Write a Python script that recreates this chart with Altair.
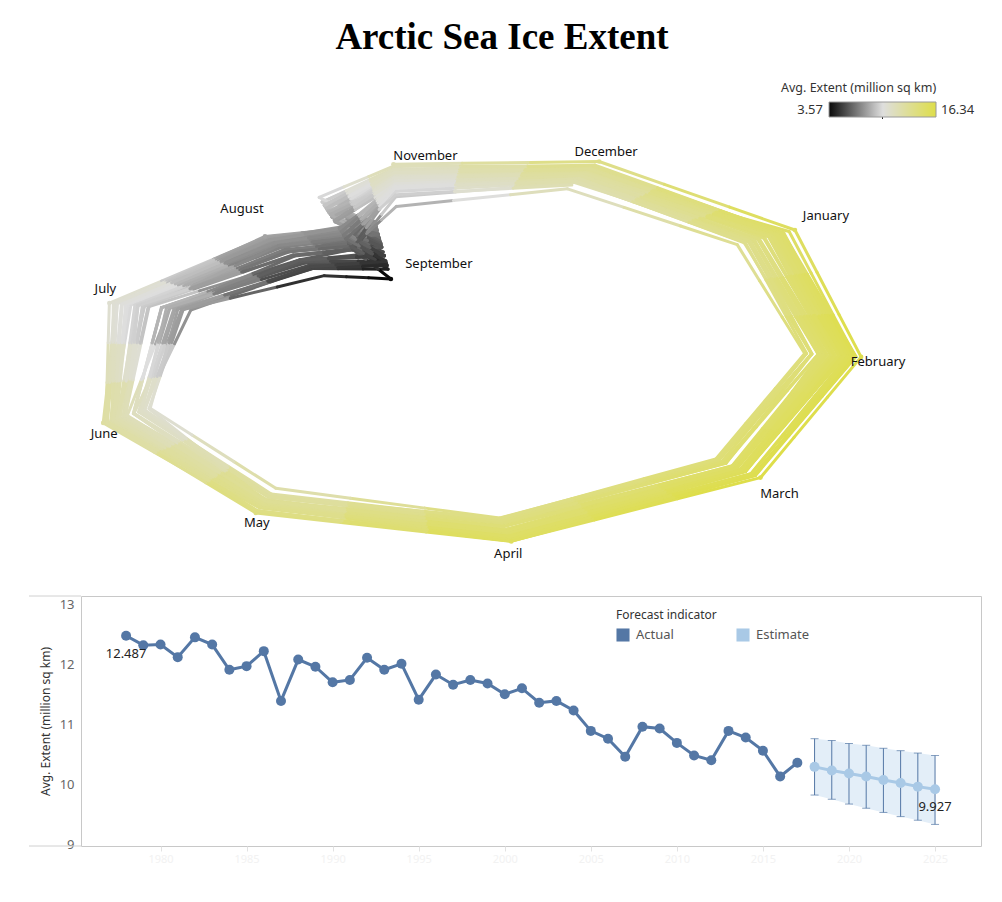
import altair as alt
import pandas as pd

# ---------------- data: monthly average extent (million sq km) ----------------
MONTHS = ["January", "February", "March", "April", "May", "June", "July",
          "August", "September", "October", "November", "December"]

# January .. October : 1979-2017
JAN = [15.41, 14.86, 14.91, 15.18, 14.94, 14.47, 14.72, 14.89, 14.97, 14.87,
       14.86, 14.91, 14.51, 14.66, 14.83, 14.74, 14.61, 14.17, 14.45, 14.70,
       14.52, 14.22, 14.37, 14.37, 14.40, 13.94, 13.64, 13.41, 13.81, 14.01,
       13.97, 13.78, 13.57, 13.76, 13.81, 13.66, 13.63, 13.45, 13.13]
FEB = [16.18, 15.96, 15.60, 15.97, 16.00, 15.44, 15.84, 15.90, 15.76, 15.98,
       15.46, 15.80, 15.43, 15.40, 15.70, 15.52, 15.24, 15.18, 15.37, 15.59,
       15.25, 15.15, 15.57, 15.17, 15.25, 14.92, 14.66, 14.42, 14.66, 15.09,
       14.98, 14.86, 14.42, 14.71, 14.82, 14.44, 14.43, 14.25, 14.18]
MAR = [16.34, 16.04, 15.63, 16.07, 16.07, 15.60, 16.09, 16.04, 15.92, 16.11,
       15.55, 16.08, 15.66, 15.52, 15.90, 15.65, 15.59, 15.20, 15.51, 15.65,
       15.57, 15.28, 15.60, 15.41, 15.48, 15.06, 14.74, 14.43, 14.66, 15.21,
       15.16, 15.14, 14.56, 15.26, 15.04, 14.76, 14.37, 14.40, 14.29]
APR = [15.45, 15.33, 15.10, 15.47, 15.21, 15.01, 15.44, 15.03, 15.25, 15.41,
       14.73, 15.05, 15.19, 14.94, 15.27, 15.14, 14.79, 14.72, 14.82, 15.09,
       15.12, 14.73, 14.85, 14.62, 14.62, 14.21, 14.10, 13.95, 13.93, 14.38,
       14.60, 14.70, 14.15, 14.73, 14.38, 14.10, 13.96, 13.77, 13.80]
MAY = [13.88, 13.90, 13.65, 14.02, 13.45, 13.43, 13.85, 13.48, 13.40, 13.54,
       13.25, 13.26, 13.47, 13.40, 13.43, 13.44, 13.37, 13.34, 13.29, 13.44,
       13.50, 13.06, 13.49, 13.37, 13.00, 12.78, 13.11, 12.72, 12.83, 13.16,
       13.26, 13.14, 12.80, 13.09, 13.11, 12.73, 12.57, 12.14, 12.77]
JUN = [12.53, 12.20, 12.43, 12.42, 12.35, 11.98, 12.14, 12.38, 12.21, 12.17,
       12.16, 11.70, 12.04, 12.15, 11.94, 12.03, 11.62, 12.09, 11.84, 11.83,
       11.96, 11.70, 11.67, 11.68, 11.62, 11.58, 11.26, 11.06, 11.25, 11.27,
       11.28, 10.83, 10.92, 10.63, 11.53, 11.00, 10.93, 10.58, 10.80]
JUL = [10.31, 10.11, 10.39, 10.57, 10.28, 9.90, 9.95, 10.35, 10.14, 10.30,
       9.80, 9.59, 9.93, 10.43, 9.59, 9.99, 9.15, 10.11, 9.66, 9.55,
       9.31, 9.37, 9.18, 9.33, 9.39, 9.54, 8.70, 8.41, 7.94, 8.71,
       8.70, 8.21, 7.66, 7.93, 8.42, 8.26, 8.53, 8.12, 7.99]
AUG = [8.04, 7.98, 7.84, 8.14, 8.19, 7.76, 7.46, 8.06, 7.72, 7.93,
       7.52, 6.86, 7.29, 7.57, 6.95, 7.64, 6.13, 7.88, 7.22, 6.92,
       6.86, 7.04, 7.39, 6.55, 6.81, 6.53, 6.04, 6.46, 5.36, 5.84,
       6.12, 5.98, 5.46, 4.72, 6.09, 6.13, 5.63, 5.38, 5.51]
SEP = [7.05, 7.67, 7.14, 7.30, 7.39, 6.81, 6.70, 7.41, 7.28, 7.37,
       7.01, 6.14, 6.47, 7.47, 6.40, 7.14, 6.08, 7.58, 6.69, 6.54,
       6.12, 6.25, 6.73, 5.83, 6.12, 5.98, 5.50, 5.86, 4.27, 4.69,
       5.26, 4.87, 4.56, 3.57, 5.21, 5.22, 4.62, 4.51, 4.82]
OCT = [8.75, 9.18, 8.86, 9.45, 9.20, 8.65, 8.87, 9.04, 9.42, 9.78,
       9.10, 8.67, 8.38, 9.21, 8.96, 8.95, 7.96, 8.76, 8.35, 8.51,
       8.29, 8.67, 8.28, 8.52, 7.97, 8.06, 7.33, 7.49, 6.04, 7.35,
       6.93, 6.98, 6.46, 5.89, 7.45, 7.24, 6.98, 6.08, 6.71]
# November, December : 1978-2017
NOV = [11.65,
       10.76, 11.24, 10.75, 11.16, 11.21, 10.48, 10.97, 11.08, 11.36, 11.52,
       11.29, 11.08, 10.92, 11.27, 11.20, 11.07, 10.23, 10.11, 10.74, 10.39,
       10.46, 10.19, 10.65, 10.26, 10.15, 10.46, 10.04, 9.82, 10.00, 10.26,
       10.05, 9.72, 9.97, 9.35, 9.95, 10.12, 10.04, 8.67, 9.49]
DEC = [13.67,
       12.55, 13.32, 12.67, 13.19, 13.23, 12.74, 13.08, 13.26, 12.60, 13.31,
       13.38, 12.99, 12.84, 12.99, 13.07, 13.03, 12.58, 12.50, 12.74, 12.57,
       12.50, 12.43, 12.65, 12.45, 12.30, 12.40, 12.10, 12.02, 12.05, 12.48,
       12.26, 12.02, 12.22, 11.95, 12.26, 12.25, 12.07, 11.44, 11.75]

# yearly average extent + forecast
ACT_YEARS = list(range(1978, 2018))
ACTUAL = [12.487, 12.33, 12.34, 12.13, 12.46, 12.34, 11.92, 11.98, 12.23, 11.40,
          12.09, 11.97, 11.71, 11.75, 12.12, 11.92, 12.02, 11.42, 11.84, 11.67,
          11.75, 11.69, 11.51, 11.61, 11.37, 11.40, 11.24, 10.90, 10.77, 10.47,
          10.97, 10.94, 10.70, 10.49, 10.41, 10.90, 10.79, 10.57, 10.14, 10.37]
FC_YEARS = list(range(2018, 2026))
ESTIMATE = [10.30, 10.24, 10.19, 10.14, 10.08, 10.03, 9.97, 9.927]
UPPER = [10.77, 10.74, 10.69, 10.66, 10.61, 10.57, 10.53, 10.49]
LOWER = [9.83, 9.76, 9.68, 9.61, 9.54, 9.47, 9.41, 9.34]

# ---------------- layout / style ----------------
MONTH_ANGLE = [333, 7, 40, 76, 112, 148, 190, 233, 262, 252, 268, 300]  # screen degrees
LABEL_OFFSET = {0: (31, -14), 1: (17, 5), 2: (19, 16), 3: (-3, 13), 4: (1, 10),
                5: (1, 11), 6: (-4, -14), 7: (-23, -27), 8: (48, -15),
                10: (32, -8), 11: (7, -9)}
FONT = "Noto Sans"
DARK = "#5477a5"
LIGHT = "#a9c9e6"

rows = []
for m, series in enumerate([JAN, FEB, MAR, APR, MAY, JUN, JUL, AUG, SEP, OCT, NOV, DEC]):
    start = 2018 - len(series)
    for k, v in enumerate(series):
        yr = start + k
        rows.append({"year": yr, "m": m, "month": MONTHS[m], "E": v,
                     "t": yr * 12 + m, "ang": MONTH_ANGLE[m]})
df = pd.DataFrame(rows).sort_values("t").reset_index(drop=True)

xs = alt.Scale(domain=[-11.408, 20.282], nice=False, zero=False)
ys = alt.Scale(domain=[-17.456, 23.18], nice=False, zero=False)
cs = alt.Scale(domain=[3.57, 9.955, 16.34], range=["#0a0a0a", "#dedede", "#dede4a"],
               interpolate="rgb")

base = alt.Chart(df).transform_calculate(
    X="datum.E * cos(datum.ang * PI / 180)",
    Y="-datum.E * sin(datum.ang * PI / 180)",
)

# each month-to-month segment is drawn in three pieces: start colour, mean colour, end colour
seg = base.transform_window(
    nX="lead(X)", nY="lead(Y)", nE="lead(E)", sort=[alt.SortField("t")]
).transform_filter("isValid(datum.nX)").transform_calculate(
    p0="0", p1="1", p2="2"
).transform_fold(["p0", "p1", "p2"], as_=["piece", "pv"]).transform_calculate(
    k="toNumber(datum.pv)"
).transform_calculate(
    x1="datum.X + (datum.nX - datum.X) * datum.k / 3",
    x2="datum.X + (datum.nX - datum.X) * (datum.k + 1) / 3",
    y1="datum.Y + (datum.nY - datum.Y) * datum.k / 3",
    y2="datum.Y + (datum.nY - datum.Y) * (datum.k + 1) / 3",
    c="datum.k == 0 ? datum.E : (datum.k == 1 ? (datum.E + datum.nE) / 2 : datum.nE)",
).mark_rule(strokeWidth=3, strokeCap="round").encode(
    x=alt.X("x1:Q", scale=xs, axis=None),
    x2="x2:Q",
    y=alt.Y("y1:Q", scale=ys, axis=None),
    y2="y2:Q",
    color=alt.Color("c:Q", scale=cs, legend=alt.Legend(
        type="gradient", orient="none", legendX=748, legendY=101, direction="horizontal",
        gradientLength=107, gradientThickness=15, title=None, labelOpacity=0,
        gradientStrokeColor="#9a9a9a", gradientStrokeWidth=1)),
)

anchors = base.transform_joinaggregate(
    maxE="max(E)", minE="min(E)", groupby=["m"]
).transform_filter("datum.E == (datum.m == 8 ? datum.minE : datum.maxE)")

dots = anchors.transform_filter("datum.m != 9").mark_circle(size=22, opacity=1).encode(
    x=alt.X("X:Q", scale=xs, axis=None),
    y=alt.Y("Y:Q", scale=ys, axis=None),
    color=alt.Color("E:Q", scale=cs, legend=None),
)

label_layers = []
for m, (dx, dy) in LABEL_OFFSET.items():
    label_layers.append(
        anchors.transform_filter(f"datum.m == {m}").mark_text(
            dx=dx, dy=dy, font=FONT, fontSize=13, color="#111111",
            align="center", baseline="middle"
        ).encode(
            x=alt.X("X:Q", scale=xs, axis=None),
            y=alt.Y("Y:Q", scale=ys, axis=None),
            text="month:N",
        )
    )

ann = pd.DataFrame({"k": [0]})
title_txt = alt.Chart(ann).mark_text(
    text="Arctic Sea Ice Extent", font="Liberation Serif", fontSize=37,
    fontWeight="bold", color="#000000", align="center", baseline="middle"
).encode(x=alt.value(421), y=alt.value(37))
leg_title = alt.Chart(ann).mark_text(
    text="Avg. Extent (million sq km)", font=FONT, fontSize=12.5, color="#333333",
    align="left", baseline="middle"
).encode(x=alt.value(700), y=alt.value(87))
leg_min = alt.Chart(ann).mark_text(
    text="3.57", font=FONT, fontSize=13, color="#333333", align="right", baseline="middle"
).encode(x=alt.value(742), y=alt.value(109))
leg_max = alt.Chart(ann).mark_text(
    text="16.34", font=FONT, fontSize=13, color="#333333", align="left", baseline="middle"
).encode(x=alt.value(860), y=alt.value(109))
leg_tick = alt.Chart(ann).mark_rule(color="#222222", strokeWidth=1).encode(
    x=alt.value(801.5), y=alt.value(113), y2=alt.value(118))

top = alt.layer(seg, dots, *label_layers, title_txt, leg_title, leg_min, leg_max,
                leg_tick).resolve_scale(color="independent").properties(
    width=900, height=575, view=alt.ViewBackground(stroke="transparent")
)

# ---------------- bottom chart ----------------
dfa = pd.DataFrame({"year": ACT_YEARS, "v": ACTUAL, "kind": "Actual"})
dff = pd.DataFrame({"year": FC_YEARS, "v": ESTIMATE, "lo": LOWER, "hi": UPPER,
                    "kind": "Estimate"})
dfall = pd.concat([dfa, dff], ignore_index=True)

bx = alt.Scale(domain=[1975.38, 2027.67], nice=False, zero=False)
by = alt.Scale(domain=[8.98, 13.15], nice=False, zero=False)
kc = alt.Scale(domain=["Actual", "Estimate"], range=[DARK, LIGHT])

x_axis = alt.Axis(values=list(range(1980, 2030, 5)), format="d", grid=False, domain=False,
                  tickSize=5, tickColor="#e2e2e2", labelColor="#f2f2f2", labelFontSize=11,
                  title=None, labelFont=FONT)
y_axis = alt.Axis(values=[9, 10, 11, 12, 13], format="d", grid=False, domain=False, ticks=False,
                  labelPadding=7, labelFontSize=13, labelColor="#666666", labelFont=FONT,
                  title="Avg. Extent (million sq km)", titleFontSize=12,
                  titleFontWeight="normal", titleColor="#333333", titleFont=FONT,
                  titlePadding=7)

# this legend is placed in the coordinates of the whole page's first view
kind_legend = alt.Legend(
    title="Forecast indicator", orient="none", legendX=535, legendY=609,
    direction="horizontal", symbolType="square", symbolSize=170,
    symbolStrokeWidth=0, symbolOpacity=1, titleFontSize=12, titleFontWeight="normal",
    titleColor="#333333", titleFont=FONT, labelFont=FONT, labelFontSize=13,
    labelColor="#555555", columnPadding=62, titlePadding=6, labelOffset=6)

band = alt.Chart(dff).mark_area(color="#e3eef8", opacity=1).encode(
    x=alt.X("year:Q", scale=bx, axis=x_axis),
    y=alt.Y("lo:Q", scale=by, axis=y_axis),
    y2="hi:Q",
)
ebar = alt.Chart(dff).mark_rule(color=DARK, strokeWidth=1).encode(
    x=alt.X("year:Q", scale=bx), y=alt.Y("lo:Q", scale=by), y2="hi:Q"
)
cap_hi = alt.Chart(dff).mark_tick(orient="horizontal", size=8, thickness=1, color=DARK).encode(
    x=alt.X("year:Q", scale=bx), y=alt.Y("hi:Q", scale=by)
)
cap_lo = alt.Chart(dff).mark_tick(orient="horizontal", size=8, thickness=1, color=DARK).encode(
    x=alt.X("year:Q", scale=bx), y=alt.Y("lo:Q", scale=by)
)
lines = alt.Chart(dfall).mark_line(strokeWidth=3).encode(
    x=alt.X("year:Q", scale=bx), y=alt.Y("v:Q", scale=by),
    color=alt.Color("kind:N", scale=kc, legend=kind_legend),
)
pts = alt.Chart(dfall).mark_circle(size=100, opacity=1).encode(
    x=alt.X("year:Q", scale=bx), y=alt.Y("v:Q", scale=by),
    color=alt.Color("kind:N", scale=kc, legend=kind_legend),
)
vals = alt.Chart(dfall).transform_filter("datum.year == 1978 || datum.year == 2025").mark_text(
    dy=18, font=FONT, fontSize=13, color="#222222"
).encode(x=alt.X("year:Q", scale=bx), y=alt.Y("v:Q", scale=by),
         text=alt.Text("v:Q", format=".3f"))
edge_top = alt.Chart(ann).mark_rule(color="#d0d0d0").encode(
    x=alt.value(-52), x2=alt.value(0), y=alt.value(0))
edge_bot = alt.Chart(ann).mark_rule(color="#d0d0d0").encode(
    x=alt.value(-52), x2=alt.value(0), y=alt.value(250))

bottom = alt.layer(band, ebar, cap_hi, cap_lo, lines, pts, vals, edge_top, edge_bot).properties(
    width=900, height=250, view=alt.ViewBackground(stroke="#c8c8c8")
)

chart = alt.vconcat(top, bottom, spacing=20, bounds="flush").properties(
    padding={"left": 28, "top": 0, "right": 0, "bottom": 0}
).configure_view(stroke="transparent").configure(font=FONT)

chart.save("out.html", embed_options={"renderer": "svg", "actions": False})
